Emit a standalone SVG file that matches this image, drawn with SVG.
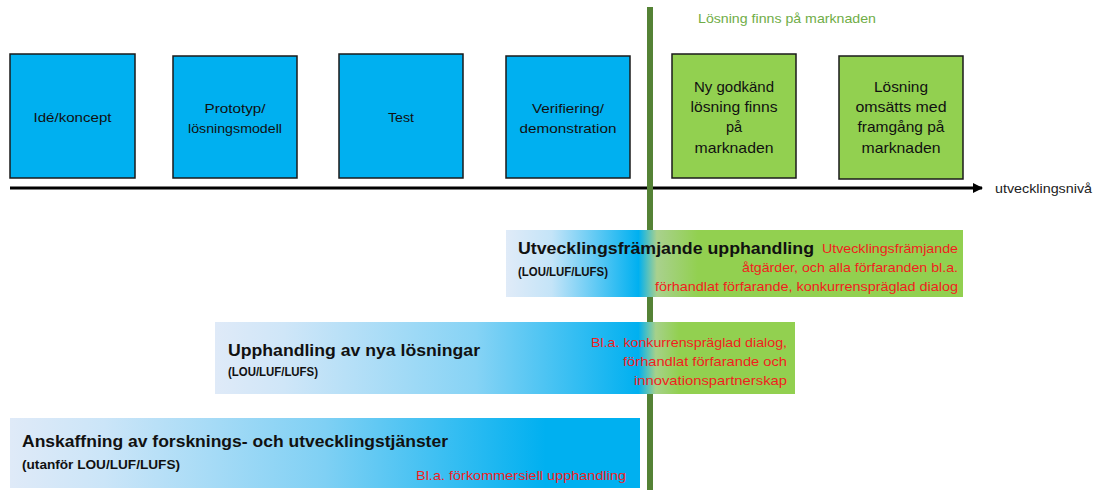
<svg xmlns="http://www.w3.org/2000/svg" width="1094" height="490" viewBox="0 0 1094 490">
<style>
text{font-family:"Liberation Sans",Arial,sans-serif}
.stage{stroke:#1a1a1a;stroke-width:1.5}
.blue{fill:#00b0f0}
.green{fill:#92d050}
.bt{font-size:13.5px;fill:#111;text-anchor:middle}
.gt{font-size:14.5px;fill:#111;text-anchor:middle}
.title{font-size:16.5px;font-weight:bold;fill:#111}
.sub{font-size:13px;font-weight:bold;fill:#111}
.red{font-size:13px;fill:#f01e1e;text-anchor:end}
</style>
<defs>
<linearGradient id="g1" x1="0" y1="0" x2="1" y2="0">
<stop offset="0" stop-color="#e0ebf8"/>
<stop offset="0.1" stop-color="#c4e4f8"/>
<stop offset="0.29" stop-color="#00b0f0"/>
<stop offset="0.33" stop-color="#a9d18e"/>
<stop offset="0.42" stop-color="#92d050"/>
<stop offset="1" stop-color="#92d050"/>
</linearGradient>
<linearGradient id="g2" x1="0" y1="0" x2="1" y2="0">
<stop offset="0" stop-color="#dfeaf8"/>
<stop offset="0.12" stop-color="#cfe6f8"/>
<stop offset="0.45" stop-color="#86d3f5"/>
<stop offset="0.73" stop-color="#00b0f0"/>
<stop offset="0.76" stop-color="#a6d18a"/>
<stop offset="0.8" stop-color="#92d050"/>
<stop offset="1" stop-color="#92d050"/>
</linearGradient>
<linearGradient id="g3" x1="0" y1="0" x2="1" y2="0">
<stop offset="0" stop-color="#dfeaf8"/>
<stop offset="0.15" stop-color="#cbe5f8"/>
<stop offset="0.5" stop-color="#7fd0f4"/>
<stop offset="0.85" stop-color="#00b0f0"/>
<stop offset="1" stop-color="#00b0f0"/>
</linearGradient>
<marker id="arr" markerWidth="10" markerHeight="10" refX="9" refY="5" orient="auto" markerUnits="userSpaceOnUse">
<path d="M0,0 L10,5 L0,10 Z" fill="#000"/>
</marker>
</defs>

<g id="connectors">
<line x1="10" y1="188" x2="982" y2="188" stroke="#000" stroke-width="3" marker-end="url(#arr)"/>
</g>
<text x="995" y="193" font-size="13" fill="#222" textLength="97" lengthAdjust="spacingAndGlyphs">utvecklingsnivå</text>

<g id="market-line">
<rect x="647" y="7" width="6" height="483" fill="#548235"/>
<text x="698" y="23" font-size="13" fill="#70ad47" textLength="178" lengthAdjust="spacingAndGlyphs">Lösning finns på marknaden</text>
</g>

<g id="n1"><rect class="stage blue" x="10" y="54" width="125" height="124"/>
<text class="bt" x="72.5" y="122" textLength="78" lengthAdjust="spacingAndGlyphs">Idé/koncept</text></g>
<g id="n2"><rect class="stage blue" x="173" y="56" width="124" height="122"/>
<text class="bt" x="235" y="113" textLength="61" lengthAdjust="spacingAndGlyphs">Prototyp/</text>
<text class="bt" x="235" y="133" textLength="94" lengthAdjust="spacingAndGlyphs">lösningsmodell</text></g>
<g id="n3"><rect class="stage blue" x="339" y="54" width="124" height="124"/>
<text class="bt" x="401" y="122" textLength="26" lengthAdjust="spacingAndGlyphs">Test</text></g>
<g id="n4"><rect class="stage blue" x="506" y="56" width="124" height="122"/>
<text class="bt" x="568" y="113" textLength="72" lengthAdjust="spacingAndGlyphs">Verifiering/</text>
<text class="bt" x="568" y="133" textLength="97" lengthAdjust="spacingAndGlyphs">demonstration</text></g>
<g id="n5"><rect class="stage green" x="672" y="54" width="124" height="124"/>
<text class="gt" x="734" y="92" textLength="80" lengthAdjust="spacingAndGlyphs">Ny godkänd</text>
<text class="gt" x="734" y="112" textLength="87" lengthAdjust="spacingAndGlyphs">lösning finns</text>
<text class="gt" x="734" y="132">på</text>
<text class="gt" x="734" y="153" textLength="79" lengthAdjust="spacingAndGlyphs">marknaden</text></g>
<g id="n6"><rect class="stage green" x="839" y="56" width="124" height="123"/>
<text class="gt" x="901" y="92" textLength="54" lengthAdjust="spacingAndGlyphs">Lösning</text>
<text class="gt" x="901" y="112" textLength="91" lengthAdjust="spacingAndGlyphs">omsätts med</text>
<text class="gt" x="901" y="132" textLength="87" lengthAdjust="spacingAndGlyphs">framgång på</text>
<text class="gt" x="901" y="153" textLength="79" lengthAdjust="spacingAndGlyphs">marknaden</text></g>

<g id="bar1">
<rect x="506" y="230" width="457" height="67" fill="url(#g1)"/>
<text class="title" x="518" y="254" textLength="296" lengthAdjust="spacingAndGlyphs">Utvecklingsfrämjande upphandling</text>
<text class="sub" x="518" y="276" textLength="90" lengthAdjust="spacingAndGlyphs">(LOU/LUF/LUFS)</text>
<text class="red" x="958" y="253" textLength="136" lengthAdjust="spacingAndGlyphs">Utvecklingsfrämjande</text>
<text class="red" x="958" y="272" textLength="216" lengthAdjust="spacingAndGlyphs">åtgärder, och alla förfaranden bl.a.</text>
<text class="red" x="958" y="291" textLength="303" lengthAdjust="spacingAndGlyphs">förhandlat förfarande, konkurrenspräglad dialog</text>
</g>

<g id="bar2">
<rect x="215" y="322" width="580" height="72" fill="url(#g2)"/>
<text class="title" x="228" y="356" textLength="252" lengthAdjust="spacingAndGlyphs">Upphandling  av nya lösningar</text>
<text class="sub" x="228" y="376" textLength="90" lengthAdjust="spacingAndGlyphs">(LOU/LUF/LUFS)</text>
<text class="red" x="787" y="347" textLength="196" lengthAdjust="spacingAndGlyphs">Bl.a. konkurrenspräglad dialog,</text>
<text class="red" x="787" y="366" textLength="164" lengthAdjust="spacingAndGlyphs">förhandlat förfarande och</text>
<text class="red" x="787" y="385" textLength="153" lengthAdjust="spacingAndGlyphs">innovationspartnerskap</text>
</g>

<g id="bar3">
<rect x="10" y="418" width="630" height="70" fill="url(#g3)"/>
<text class="title" x="22" y="447" textLength="426" lengthAdjust="spacingAndGlyphs">Anskaffning av forsknings- och utvecklingstjänster</text>
<text class="sub" x="22" y="469" textLength="158" lengthAdjust="spacingAndGlyphs">(utanför LOU/LUF/LUFS)</text>
<text class="red" x="626" y="480" textLength="210" lengthAdjust="spacingAndGlyphs">Bl.a. förkommersiell upphandling</text>
</g>
</svg>
